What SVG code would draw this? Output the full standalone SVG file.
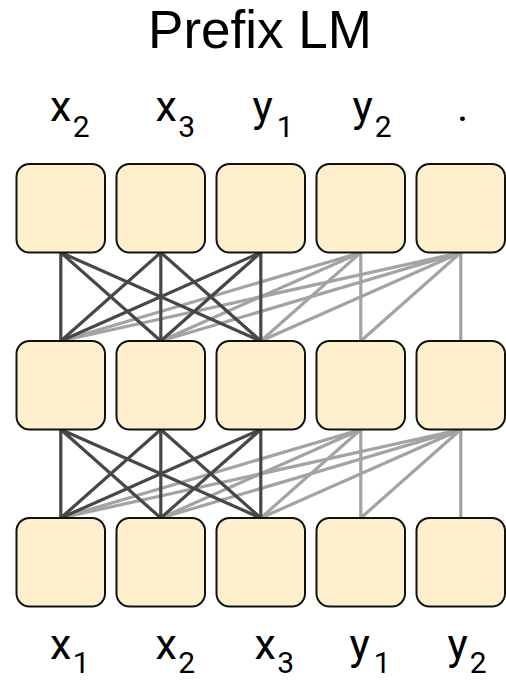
<svg xmlns="http://www.w3.org/2000/svg" width="506" height="680" viewBox="0 0 506 680">
<style>
.box{fill:#fff0cd;stroke:#111;stroke-width:2}
.d{stroke:#474747;stroke-width:3.2;fill:none}
.g{stroke:#a3a3a3;stroke-width:3.2;fill:none}
.t{font-family:"Liberation Sans",Arial,sans-serif;font-size:53px;fill:#000}
.l{font-family:Roboto,"Liberation Sans",sans-serif;font-size:43px;fill:#000}
.s{font-size:30px}
</style>
<rect width="506" height="680" fill="#fff"/>
<text class="t" x="260" y="47.5" text-anchor="middle">Prefix LM</text>
<g id="connectors">
<g class="g">
<path d="M360.8 252.5L60.8 341M360.8 252.5L160.8 341M360.8 252.5L260.8 341M360.8 252.5L360.8 341"/>
<path d="M460.8 252.5L60.8 341M460.8 252.5L160.8 341M460.8 252.5L260.8 341M460.8 252.5L360.8 341M460.8 252.5L460.8 341"/>
<path d="M360.8 429.5L60.8 518M360.8 429.5L160.8 518M360.8 429.5L260.8 518M360.8 429.5L360.8 518"/>
<path d="M460.8 429.5L60.8 518M460.8 429.5L160.8 518M460.8 429.5L260.8 518M460.8 429.5L360.8 518M460.8 429.5L460.8 518"/>
</g>
<g class="d">
<path d="M60.8 252.5L60.8 341M60.8 252.5L160.8 341M60.8 252.5L260.8 341"/>
<path d="M160.8 252.5L60.8 341M160.8 252.5L160.8 341M160.8 252.5L260.8 341"/>
<path d="M260.8 252.5L60.8 341M260.8 252.5L160.8 341M260.8 252.5L260.8 341"/>
<path d="M60.8 429.5L60.8 518M60.8 429.5L160.8 518M60.8 429.5L260.8 518"/>
<path d="M160.8 429.5L60.8 518M160.8 429.5L160.8 518M160.8 429.5L260.8 518"/>
<path d="M260.8 429.5L60.8 518M260.8 429.5L160.8 518M260.8 429.5L260.8 518"/>
</g>
</g>
<g id="r1n0"><rect class="box" x="16.5" y="164" width="88.5" height="88.5" rx="13"/></g>
<g id="r1n1"><rect class="box" x="116.5" y="164" width="88.5" height="88.5" rx="13"/></g>
<g id="r1n2"><rect class="box" x="216.5" y="164" width="88.5" height="88.5" rx="13"/></g>
<g id="r1n3"><rect class="box" x="316.5" y="164" width="88.5" height="88.5" rx="13"/></g>
<g id="r1n4"><rect class="box" x="416.5" y="164" width="88.5" height="88.5" rx="13"/></g>
<g id="r2n0"><rect class="box" x="16.5" y="341" width="88.5" height="88.5" rx="13"/></g>
<g id="r2n1"><rect class="box" x="116.5" y="341" width="88.5" height="88.5" rx="13"/></g>
<g id="r2n2"><rect class="box" x="216.5" y="341" width="88.5" height="88.5" rx="13"/></g>
<g id="r2n3"><rect class="box" x="316.5" y="341" width="88.5" height="88.5" rx="13"/></g>
<g id="r2n4"><rect class="box" x="416.5" y="341" width="88.5" height="88.5" rx="13"/></g>
<g id="r3n0"><rect class="box" x="16.5" y="518" width="88.5" height="88.5" rx="13"/></g>
<g id="r3n1"><rect class="box" x="116.5" y="518" width="88.5" height="88.5" rx="13"/></g>
<g id="r3n2"><rect class="box" x="216.5" y="518" width="88.5" height="88.5" rx="13"/></g>
<g id="r3n3"><rect class="box" x="316.5" y="518" width="88.5" height="88.5" rx="13"/></g>
<g id="r3n4"><rect class="box" x="416.5" y="518" width="88.5" height="88.5" rx="13"/></g>
<g id="labels-top">
<text class="l" x="50" y="120.7">x<tspan class="s" dx="1.5" dy="16">2</tspan></text>
<text class="l" x="155.4" y="120.7">x<tspan class="s" dx="1.5" dy="16">3</tspan></text>
<text class="l" x="252.5" y="120.7">y<tspan class="s" dx="4" dy="16">1</tspan></text>
<text class="l" x="352.5" y="120.7">y<tspan class="s" dx="2" dy="16">2</tspan></text>
<text class="l" x="457" y="120.7">.</text>
</g>
<g id="labels-bottom">
<text class="l" x="50" y="659">x<tspan class="s" dx="1.5" dy="14">1</tspan></text>
<text class="l" x="155.4" y="659">x<tspan class="s" dx="1.5" dy="14">2</tspan></text>
<text class="l" x="254.4" y="659">x<tspan class="s" dx="1.5" dy="14">3</tspan></text>
<text class="l" x="349.5" y="659">y<tspan class="s" dx="4" dy="14">1</tspan></text>
<text class="l" x="447.5" y="659">y<tspan class="s" dx="2" dy="14">2</tspan></text>
</g>
</svg>
